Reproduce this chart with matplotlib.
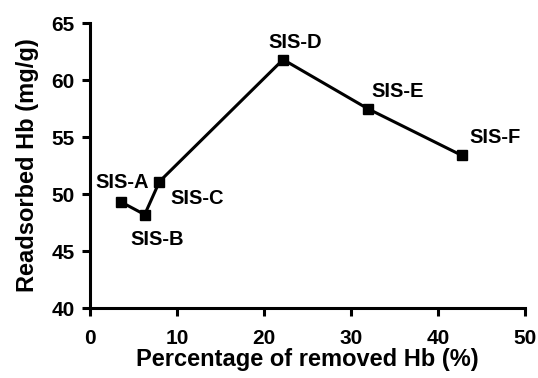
import matplotlib
matplotlib.use("Agg")
import matplotlib.pyplot as plt

plt.rcParams['font.family'] = ['Liberation Sans', 'DejaVu Sans']

# Data
samples = ['SIS-A', 'SIS-B', 'SIS-C', 'SIS-D', 'SIS-E', 'SIS-F']
removed_hb = [3.6, 6.3, 8.0, 22.2, 31.9, 42.7]
readsorbed_hb = [49.3, 48.2, 51.1, 61.8, 57.5, 53.4]
label_offsets = [(1, 14), (9, -18), (27, -12), (9, 12), (22, 12), (24, 13)]

fig = plt.figure(figsize=(5.38, 3.78), dpi=100)
ax = fig.add_axes([0.167, 0.185, 0.809, 0.754])

ax.plot(removed_hb, readsorbed_hb, color='black', linewidth=2.2,
        marker='s', markersize=6.5, clip_on=False)

for name, x, y, off in zip(samples, removed_hb, readsorbed_hb, label_offsets):
    ax.annotate(name, (x, y), xytext=off, textcoords='offset points',
                ha='center', va='center', fontsize=14.5, fontweight='bold')

ax.set_xlim(0, 50)
ax.set_ylim(40, 65)
ax.set_xticks(range(0, 51, 10))
ax.set_yticks(range(40, 66, 5))

for side in ['top', 'right']:
    ax.spines[side].set_visible(False)
for side in ['left', 'bottom']:
    ax.spines[side].set_linewidth(2.2)

ax.tick_params(width=2.2, length=6, labelsize=15, direction='out')
ax.tick_params(axis='x', pad=9)
ax.tick_params(axis='y', pad=5)
for lab in ax.get_xticklabels() + ax.get_yticklabels():
    lab.set_fontweight('bold')

ax.set_xlabel("Percentage of removed Hb (%)", fontsize=17, fontweight='bold', labelpad=0)
ax.set_ylabel("Readsorbed Hb (mg/g)", fontsize=17, fontweight='bold', labelpad=9)

fig.savefig("out.png", dpi=100)
